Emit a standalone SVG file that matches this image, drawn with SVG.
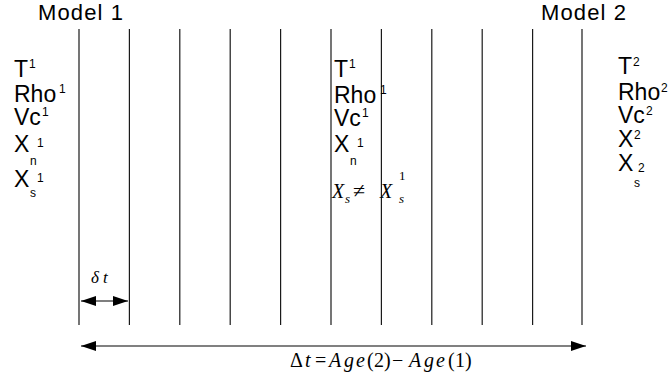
<svg xmlns="http://www.w3.org/2000/svg" width="669" height="378" viewBox="0 0 669 378">
<style>
.lbl{font-family:"Liberation Sans",Arial,sans-serif;font-size:23px;fill:#000}
.ttl{font-family:"Liberation Sans",Arial,sans-serif;font-size:22px;fill:#000}
.sup{font-family:"Liberation Sans",Arial,sans-serif;font-size:12px;fill:#000}
.math{font-family:"Liberation Serif","Times New Roman",serif;font-style:italic;fill:#000}
.up{font-style:normal}
.grid line{stroke:#1a1a1a;stroke-width:1.2}
</style>
<defs>
<marker id="ah" markerUnits="userSpaceOnUse" markerWidth="16" markerHeight="10" refX="15" refY="5" orient="auto-start-reverse" viewBox="0 0 16 10">
<path d="M0,0 L15,5 L0,10 z" fill="#000"/>
</marker>
</defs>
<rect width="669" height="378" fill="#fff"/>
<g id="grid" class="grid">
<line x1="79" y1="29" x2="79" y2="325"/>
<line x1="129.4" y1="29" x2="129.4" y2="325"/>
<line x1="179.8" y1="29" x2="179.8" y2="325"/>
<line x1="230.2" y1="29" x2="230.2" y2="325"/>
<line x1="280.6" y1="29" x2="280.6" y2="325"/>
<line x1="331" y1="29" x2="331" y2="325"/>
<line x1="381.4" y1="29" x2="381.4" y2="325"/>
<line x1="431.8" y1="29" x2="431.8" y2="325"/>
<line x1="482.2" y1="29" x2="482.2" y2="325"/>
<line x1="532.6" y1="29" x2="532.6" y2="325"/>
<line x1="582" y1="29" x2="582" y2="325"/>
</g>
<g id="model1">
<text class="ttl" x="38" y="20" textLength="85" lengthAdjust="spacing">Model 1</text>
<text class="lbl" x="14" y="77">T</text><text class="sup" x="29" y="68">1</text>
<text class="lbl" x="14" y="102">Rho</text><text class="sup" x="59" y="93">1</text>
<text class="lbl" x="14" y="125">Vc</text><text class="sup" x="42" y="116">1</text>
<text class="lbl" x="14" y="152">X</text><text class="sup" x="30" y="165">n</text><text class="sup" x="37" y="147">1</text>
<text class="lbl" x="14" y="187">X</text><text class="sup" x="30" y="197">s</text><text class="sup" x="37" y="182">1</text>
</g>
<g id="middle">
<text class="lbl" x="334" y="77">T</text><text class="sup" x="349" y="68">1</text>
<text class="lbl" x="334" y="103">Rho</text><text class="sup" x="380" y="94">1</text>
<text class="lbl" x="334" y="126">Vc</text><text class="sup" x="362" y="117">1</text>
<text class="lbl" x="334" y="152">X</text><text class="sup" x="350" y="165">n</text><text class="sup" x="357" y="147">1</text>
<text class="math" font-size="20" x="332" y="198">X</text>
<text class="math" font-size="13" x="345" y="203">s</text>
<text class="math up" font-size="22" x="353" y="198">≠</text>
<text class="math" font-size="20" x="380" y="198">X</text>
<text class="math up" font-size="13" x="399" y="180">1</text>
<text class="math" font-size="13" x="399" y="203">s</text>
</g>
<g id="model2">
<text class="ttl" x="541" y="20" textLength="85" lengthAdjust="spacing">Model 2</text>
<text class="lbl" x="618" y="74">T</text><text class="sup" x="633" y="66">2</text>
<text class="lbl" x="618" y="100">Rho</text><text class="sup" x="661" y="92">2</text>
<text class="lbl" x="618" y="123">Vc</text><text class="sup" x="646" y="115">2</text>
<text class="lbl" x="618" y="147">X</text><text class="sup" x="634" y="139">2</text>
<text class="lbl" x="618" y="171">X</text><text class="sup" x="634" y="187">s</text><text class="sup" x="638" y="172">2</text>
</g>
<g id="connectors">
<line x1="81" y1="301" x2="128" y2="301" stroke="#000" stroke-width="1.2" marker-start="url(#ah)" marker-end="url(#ah)"/>
<line x1="81" y1="346" x2="586" y2="346" stroke="#808080" stroke-width="2" marker-start="url(#ah)" marker-end="url(#ah)"/>
</g>
<g id="dt-label">
<text class="math" font-size="17" x="91" y="283">δ<tspan x="103">t</tspan></text>
</g>
<g id="Dt-label">
<text class="math" font-size="20" y="367"><tspan class="up" x="290">Δ</tspan><tspan x="305">t</tspan><tspan class="up" x="315">=</tspan><tspan x="329">A</tspan><tspan x="344">g</tspan><tspan x="356">e</tspan><tspan class="up" x="367">(</tspan><tspan class="up" x="374">2</tspan><tspan class="up" x="384">)</tspan><tspan class="up" x="392">−</tspan><tspan x="409">A</tspan><tspan x="424">g</tspan><tspan x="436">e</tspan><tspan class="up" x="448">(</tspan><tspan class="up" x="455">1</tspan><tspan class="up" x="465">)</tspan></text>
</g>
</svg>
